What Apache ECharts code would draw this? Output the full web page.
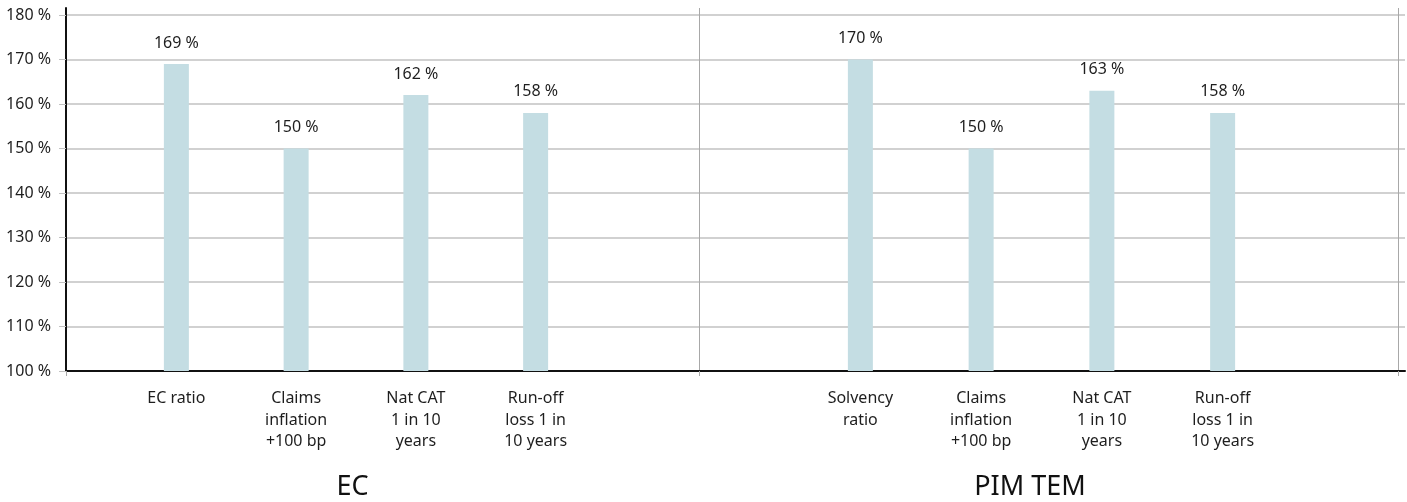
<!DOCTYPE html>
<html>
<head>
<meta charset="utf-8">
<script src="https://cdn.jsdelivr.net/npm/echarts@6/dist/echarts.min.js"></script>
<style>
  html, body { margin: 0; padding: 0; background: #fff; }
  #chart { width: 1407px; height: 502px; }
</style>
</head>
<body>
<div id="chart"></div>
<script>
// Scenario categories and solvency ratios (%)
const ecCategories = ['EC ratio', 'Claims\ninflation\n+100 bp', 'Nat CAT\n1 in 10\nyears', 'Run-off\nloss 1 in\n10 years'];
const ecValues = [169, 150, 162, 158];
const pimCategories = ['Solvency\nratio', 'Claims\ninflation\n+100 bp', 'Nat CAT\n1 in 10\nyears', 'Run-off\nloss 1 in\n10 years'];
const pimValues = [170, 150, 163, 158];
const groupNames = ['EC', 'PIM TEM'];
const yMin = 100, yMax = 180, yStep = 10;

const FONT = '"Noto Sans", "Open Sans", sans-serif';
const TEXT = '#1e1e1e';
const GRID_GRAY = '#c2c2c2';
const DIV_GRAY = '#a8a8a8';
const BAR = '#c4dde3';

const chart = echarts.init(document.getElementById('chart'));

const plotTop = 15, plotBottom = 131;

const valueAxisHidden = (idx) => ({
  type: 'value', gridIndex: idx, min: yMin, max: yMax, interval: yStep,
  show: false
});

const catAxis = (idx, data) => ({
  type: 'category', gridIndex: idx, data: data,
  axisLine: { show: false }, axisTick: { show: false }, splitLine: { show: false },
  axisLabel: {
    interval: 0, margin: 17, fontFamily: FONT, fontSize: 16, color: TEXT,
    lineHeight: 21.5, align: 'center', verticalAlign: 'top'
  }
});

const barSeries = (idx, values) => ({
  type: 'bar', xAxisIndex: idx, yAxisIndex: idx, data: values,
  barWidth: 25, itemStyle: { color: BAR },
  label: {
    show: true, position: 'top', distance: 13,
    formatter: p => p.value + ' %',
    fontFamily: FONT, fontSize: 16, color: TEXT
  },
  silent: true
});

const option = {
  animation: false,
  backgroundColor: '#fff',
  grid: [
    // 0: value scale, gridlines and baseline
    { left: 66, right: 2, top: plotTop, bottom: plotBottom },
    // 1,2: group frames with divider lines
    { left: 66, width: 633, top: 8, bottom: plotBottom },
    { left: 699, width: 699, top: 8, bottom: plotBottom },
    // 3,4: bar groups
    { left: 116.5, width: 479, top: plotTop, bottom: plotBottom },
    { left: 800, width: 483, top: plotTop, bottom: plotBottom }
  ],
  xAxis: [
    {
      type: 'value', gridIndex: 0, min: 0, max: 1,
      axisLine: { show: true, lineStyle: { color: '#111', width: 2 } },
      axisTick: { show: false }, axisLabel: { show: false }, splitLine: { show: false }
    },
    {
      type: 'category', gridIndex: 1, data: [groupNames[0]], boundaryGap: true,
      axisLine: { show: false }, axisLabel: { show: false },
      axisTick: { show: true, length: 5, lineStyle: { color: DIV_GRAY, width: 1 } },
      splitLine: { show: true, lineStyle: { color: DIV_GRAY, width: 1 } }
    },
    {
      type: 'category', gridIndex: 2, data: [groupNames[1]], boundaryGap: true,
      axisLine: { show: false }, axisLabel: { show: false },
      axisTick: { show: true, length: 5, lineStyle: { color: DIV_GRAY, width: 1 } },
      splitLine: { show: true, lineStyle: { color: DIV_GRAY, width: 1 } }
    },
    catAxis(3, ecCategories),
    catAxis(4, pimCategories)
  ],
  yAxis: [
    {
      type: 'value', gridIndex: 0, min: yMin, max: yMax, interval: yStep,
      axisLine: { show: false },
      axisTick: { show: true, length: 7, lineStyle: { color: GRID_GRAY } },
      axisLabel: {
        formatter: '{value} %', margin: 15, fontFamily: FONT, fontSize: 16, color: TEXT
      },
      splitLine: { show: true, lineStyle: { color: GRID_GRAY, width: 1.5 } }
    },
    {
      type: 'value', gridIndex: 1, min: 0, max: 1,
      axisLine: { show: true, lineStyle: { color: '#111', width: 2 } },
      axisTick: { show: false }, axisLabel: { show: false }, splitLine: { show: false }
    },
    { type: 'value', gridIndex: 2, show: false },
    valueAxisHidden(3),
    valueAxisHidden(4)
  ],
  series: [
    barSeries(3, ecValues),
    barSeries(4, pimValues)
  ],
  graphic: [
    {
      type: 'text', x: 352.5, y: 487,
      style: { text: groupNames[0], font: '27px ' + FONT, fill: '#111', textAlign: 'center', textVerticalAlign: 'middle' }
    },
    {
      type: 'text', x: 1030, y: 487,
      style: { text: groupNames[1], font: '27px ' + FONT, fill: '#111', textAlign: 'center', textVerticalAlign: 'middle' }
    }
  ]
};

chart.setOption(option);
</script>
</body>
</html>
